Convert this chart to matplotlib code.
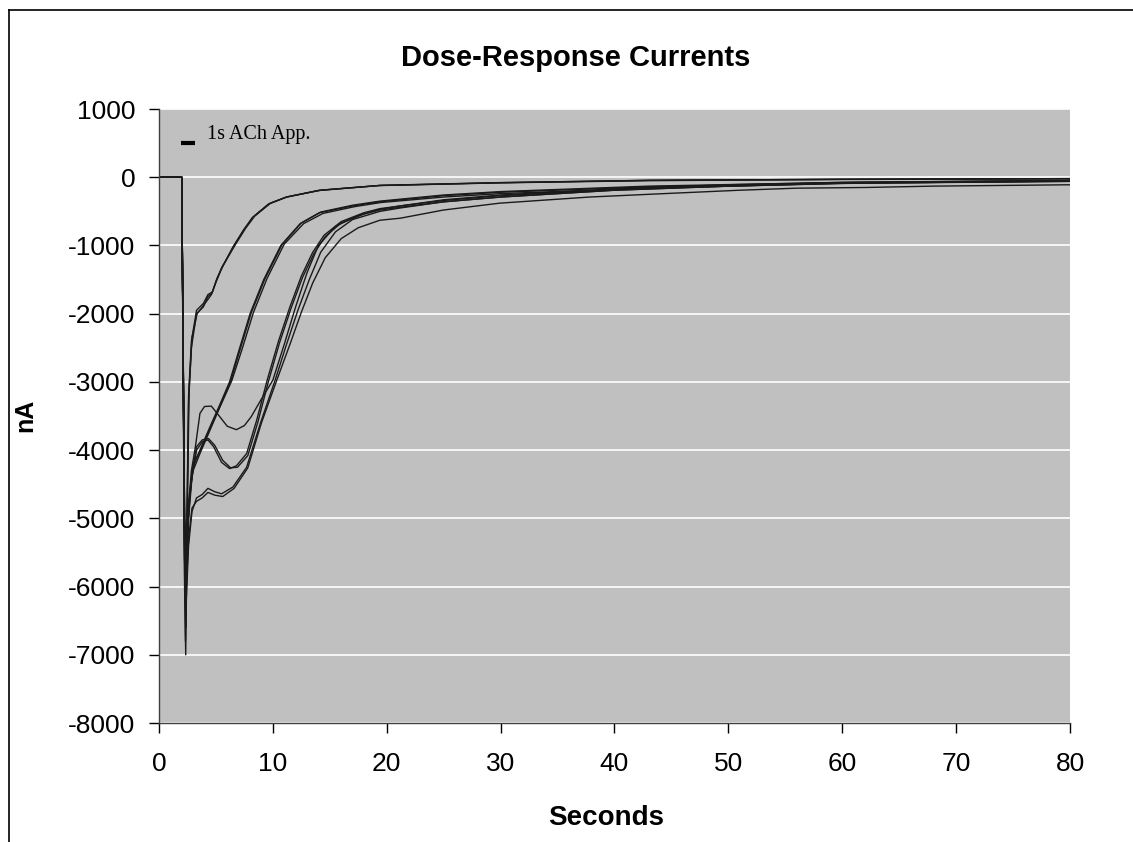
import matplotlib
matplotlib.use('Agg')
import matplotlib.pyplot as plt
from matplotlib.lines import Line2D

plt.rcParams['axes.unicode_minus'] = False  # plain hyphen like the original

# Dose-response current traces (nA vs seconds)

# fast recovery group
t_a1 = [0, 2.0, 2.12, 2.25, 2.35, 2.45, 2.6, 2.85, 3.3, 3.9, 4.3, 4.65, 5.05, 5.5, 6.6, 7.5, 8.3, 9.7, 11.2, 14.1, 19.4, 30, 43, 60, 80]
v_a1 = [0, 0, -2800, -6000, -7000, -5200, -3300, -2500, -2000, -1900, -1750, -1700, -1510, -1330, -1000, -760, -580, -385, -290, -190, -120, -80, -45, -30, -20]
t_a2 = [0, 2.0, 2.12, 2.25, 2.33, 2.45, 2.6, 2.85, 3.3, 3.9, 4.3, 4.7, 5.1, 5.6, 6.7, 7.6, 8.4, 9.8, 11.3, 14.2, 19.5, 30, 43, 60, 80]
v_a2 = [0, 0, -2600, -5800, -6800, -5000, -3200, -2400, -1950, -1850, -1720, -1680, -1480, -1300, -990, -750, -570, -380, -285, -190, -118, -78, -45, -30, -20]
t_a3 = [0, 2.0, 2.12, 2.25, 2.38, 2.5, 2.65, 2.9, 3.35, 3.9, 4.35, 4.6, 5.0, 5.5, 6.5, 7.4, 8.2, 9.6, 11.1, 14.0, 19.3, 30, 43, 60, 80]
v_a3 = [0, 0, -2500, -5600, -6600, -4800, -3100, -2350, -2000, -1880, -1780, -1720, -1540, -1340, -1020, -780, -590, -395, -295, -195, -122, -82, -50, -32, -22]

# middle group
t_b1 = [0, 2.0, 2.12, 2.25, 2.35, 2.5, 2.7, 3.0, 3.6, 4.5, 5.3, 6.2, 7.0, 8.0, 9.2, 10.7, 12.4, 14.1, 17, 19.4, 25, 30, 43, 60, 80]
v_b1 = [0, 0, -2500, -5500, -6400, -5300, -4700, -4250, -4000, -3650, -3350, -3000, -2550, -2000, -1500, -1000, -680, -520, -420, -360, -270, -220, -140, -80, -50]
t_b2 = [0, 2.0, 2.12, 2.25, 2.35, 2.5, 2.7, 3.0, 3.7, 4.6, 5.4, 6.3, 7.1, 8.1, 9.3, 10.8, 12.5, 14.2, 17, 19.4, 25, 30, 43, 60, 80]
v_b2 = [0, 0, -2500, -5300, -6200, -5200, -4650, -4200, -3980, -3640, -3340, -2990, -2540, -1990, -1490, -990, -670, -510, -410, -350, -260, -210, -130, -75, -45]
t_b3 = [0, 2.0, 2.12, 2.25, 2.38, 2.5, 2.7, 3.0, 3.6, 4.5, 5.4, 6.4, 7.3, 8.3, 9.5, 11.0, 12.7, 14.4, 17.2, 19.5, 25, 30, 43, 60, 80]
v_b3 = [0, 0, -2400, -5000, -6000, -5100, -4600, -4300, -4050, -3700, -3350, -2980, -2520, -1980, -1480, -980, -680, -530, -430, -370, -290, -240, -160, -90, -55]

# slow group with humps
t_c1 = [0, 2.0, 2.12, 2.25, 2.4, 2.6, 2.85, 3.2, 3.6, 4.0, 4.6, 5.2, 6.0, 6.8, 7.5, 8.1, 9.0, 10.0, 11.0, 12.0, 13.0, 14.0, 15.5, 17.5, 19.4, 21.2, 25, 30, 40, 50, 60, 80]
v_c1 = [0, 0, -2500, -5000, -5500, -4800, -4300, -3950, -3460, -3360, -3355, -3480, -3650, -3700, -3640, -3510, -3250, -2975, -2450, -1900, -1400, -1000, -720, -560, -470, -420, -330, -260, -170, -110, -75, -50]
t_c2 = [0, 2.0, 2.12, 2.25, 2.4, 2.6, 2.9, 3.3, 3.8, 4.3, 4.8, 5.5, 6.2, 6.8, 7.7, 8.6, 9.5, 10.5, 11.5, 12.5, 13.5, 14.5, 16, 18, 19.4, 21.2, 25, 30, 40, 50, 60, 80]
v_c2 = [0, 0, -2500, -5200, -5800, -5000, -4400, -4000, -3880, -3850, -3950, -4180, -4270, -4230, -4050, -3550, -2975, -2400, -1900, -1450, -1100, -850, -650, -520, -460, -420, -340, -270, -180, -120, -80, -55]
t_c3 = [0, 2.0, 2.12, 2.25, 2.42, 2.6, 2.9, 3.3, 3.8, 4.35, 4.9, 5.6, 6.3, 6.9, 7.8, 8.7, 9.6, 10.6, 11.6, 12.6, 13.6, 14.6, 16, 18, 19.4, 21.2, 25, 30, 40, 50, 60, 80]
v_c3 = [0, 0, -2400, -5000, -5700, -4900, -4350, -3950, -3850, -3830, -3930, -4150, -4260, -4250, -4080, -3580, -3000, -2420, -1920, -1470, -1120, -870, -670, -540, -480, -440, -360, -290, -190, -130, -85, -60]
t_c4 = [0, 2.0, 2.12, 2.25, 2.4, 2.6, 2.9, 3.3, 3.8, 4.3, 4.9, 5.5, 6.5, 7.7, 8.9, 10.2, 11.2, 12.2, 13.2, 14.2, 15.5, 17, 19.4, 21.2, 25, 30, 40, 50, 60, 80]
v_c4 = [0, 0, -2500, -5600, -6200, -5400, -4900, -4700, -4650, -4560, -4610, -4640, -4540, -4250, -3610, -2975, -2450, -1950, -1500, -1100, -800, -620, -500, -450, -360, -290, -190, -130, -90, -60]
t_c5 = [0, 2.0, 2.12, 2.25, 2.4, 2.6, 2.9, 3.3, 3.8, 4.3, 4.9, 5.6, 6.6, 7.8, 9.0, 10.4, 11.5, 12.5, 13.5, 14.6, 16, 17.5, 19.4, 21.2, 25, 29.9, 37.8, 43, 47, 51, 56, 62, 68, 80]
v_c5 = [0, 0, -2400, -5400, -6000, -5300, -4850, -4750, -4700, -4620, -4660, -4680, -4560, -4260, -3600, -2950, -2450, -1980, -1550, -1180, -900, -740, -630, -600, -480, -380, -290, -250, -220, -190, -160, -150, -130, -110]

traces = [(t_a1, v_a1), (t_a2, v_a2), (t_a3, v_a3),
          (t_b1, v_b1), (t_b2, v_b2), (t_b3, v_b3),
          (t_c1, v_c1), (t_c2, v_c2), (t_c3, v_c3), (t_c4, v_c4), (t_c5, v_c5)]

# ACh application bar
ach_t = [1.9, 3.2]
ach_v = [500, 500]

x_ticks = [0, 10, 20, 30, 40, 50, 60, 70, 80]
y_ticks = [1000, 0, -1000, -2000, -3000, -4000, -5000, -6000, -7000, -8000]

fig = plt.figure(figsize=(11.33, 8.42), dpi=100)
ax = fig.add_axes([0.1403, 0.1413, 0.8041, 0.7292])
ax.set_facecolor('#c0c0c0')

for t, v in traces:
    ax.plot(t, v, color='#1a1a1a', lw=1.0)

ax.plot(ach_t, ach_v, color='black', lw=3, solid_capstyle='butt')
ax.text(4.2, 620, '1s ACh App.', family='Liberation Serif', fontsize=14.5, va='center', ha='left')

ax.set_xlim(0, 80)
ax.set_ylim(-8000, 1000)
ax.set_xticks(x_ticks)
ax.set_yticks(y_ticks)
ax.tick_params(direction='out', length=7, width=1, labelsize=19)
ax.tick_params(axis='x', pad=14)
ax.tick_params(axis='y', pad=10)
for lab in ax.get_xticklabels() + ax.get_yticklabels():
    lab.set_family('Liberation Sans')
ax.grid(axis='y', color='white', lw=1.2)
ax.set_axisbelow(True)
for s in ['top', 'right']:
    ax.spines[s].set_visible(False)
for s in ['left', 'bottom']:
    ax.spines[s].set_color('#404040')
    ax.spines[s].set_linewidth(1)

fig.text(0.508, 0.931, 'Dose-Response Currents', family='Liberation Sans', weight='bold',
         fontsize=21, ha='center', va='center')
fig.text(0.535, 0.0285, 'Seconds', family='Liberation Sans', weight='bold',
         fontsize=20, ha='center', va='center')
fig.text(0.022, 0.507, 'nA', family='Liberation Sans', weight='bold',
         fontsize=18, ha='center', va='center', rotation=90)

# outer chart border (top and left edges visible)
fig.add_artist(Line2D([0.008, 1.0], [0.988, 0.988], transform=fig.transFigure, color='black', lw=1.2))
fig.add_artist(Line2D([0.008, 0.008], [0.0, 0.988], transform=fig.transFigure, color='black', lw=1.2))

fig.savefig('out.png', dpi=100)
